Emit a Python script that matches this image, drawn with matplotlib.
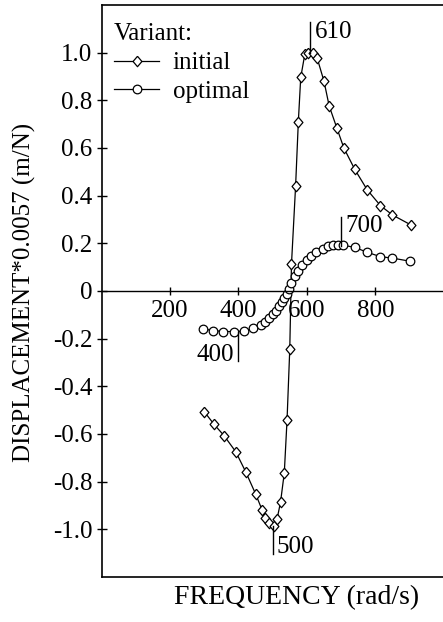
import matplotlib
matplotlib.use("Agg")
import matplotlib.pyplot as plt

plt.rcParams['font.family'] = ['Liberation Serif', 'DejaVu Serif']

# ---- data ----
init_freq = [300, 328, 358, 392, 421, 450, 469, 479, 489, 503, 513, 523, 534, 542, 550,
             555, 567, 575, 582, 594, 604, 617, 630, 650, 665, 687, 708, 740, 776, 815, 850, 903]
init_disp = [-0.506, -0.558, -0.607, -0.674, -0.758, -0.851, -0.918, -0.953, -0.974, -0.984,
             -0.956, -0.886, -0.763, -0.542, -0.243,
             0.113, 0.44, 0.71, 0.896, 0.994, 1.0, 1.0, 0.977, 0.88, 0.777, 0.686, 0.60,
             0.51, 0.425, 0.358, 0.319, 0.278]

opt_freq = [297, 327, 356, 387, 416, 443, 465, 477, 489, 500, 510, 518, 526, 533, 541, 547,
            555, 565, 575, 586, 599, 612, 626, 646, 662, 677, 691, 706, 740, 777, 815, 850, 901]
opt_disp = [-0.159, -0.166, -0.170, -0.170, -0.168, -0.157, -0.141, -0.128, -0.115, -0.098,
            -0.082, -0.064, -0.048, -0.031, -0.013, 0.008,
            0.032, 0.062, 0.085, 0.110, 0.131, 0.148, 0.162, 0.176, 0.190, 0.192, 0.192,
            0.192, 0.183, 0.162, 0.144, 0.138, 0.125]

series_labels = ['initial', 'optimal']
legend_title = 'Variant:'

xticks = [200, 400, 600, 800]
xtick_labels = ['200', '400', '600', '800']
yticks = [1.0, 0.8, 0.6, 0.4, 0.2, 0, -0.2, -0.4, -0.6, -0.8, -1.0]
ytick_labels = ['1.0', '0.8', '0.6', '0.4', '0.2', '0', '-0.2', '-0.4', '-0.6', '-0.8', '-1.0']

peak_freqs = [610, 700, 500, 400]
peak_labels = ['610', '700', '500', '400']

xlabel = 'FREQUENCY (rad/s)'
ylabel = 'DISPLACEMENT*0.0057 (m/N)'

# ---- figure ----
W, H = 443, 622
fig = plt.figure(figsize=(W / 100, H / 100), dpi=100)
left_px, right_px, top_px, bot_px = 101.5, 444.5, 5, 577
ax = fig.add_axes([left_px / W, 1 - bot_px / H, (right_px - left_px) / W, (bot_px - top_px) / H])
ax.set_xlim(0, 1002)
ax.set_ylim(-1.2, 1.2)

FS = 18

diamond = [(0, 1), (0.85, 0), (0, -1), (-0.85, 0), (0, 1)]
ax.plot(init_freq, init_disp, color='black', lw=0.9, marker=diamond, ms=7.5,
        mfc='white', mec='black', mew=0.9, label=series_labels[0])
ax.plot(opt_freq, opt_disp, color='black', lw=0.9, marker='o', ms=6.2,
        mfc='white', mec='black', mew=0.9, label=series_labels[1])

# spines: bottom spine at y=0, frame around
for s in ['left', 'top', 'right']:
    ax.spines[s].set_linewidth(1.2)
ax.spines['bottom'].set_position(('data', 0))
ax.spines['bottom'].set_linewidth(1.0)
ax.plot([0, 1], [0, 0], transform=ax.transAxes, color='black', lw=1.2, clip_on=False)

ax.set_xticks(xticks)
ax.set_xticklabels(xtick_labels)
ax.set_yticks(yticks)
ax.set_yticklabels(ytick_labels)
ax.tick_params(axis='x', direction='inout', length=6, width=1.0, pad=3.5, labelsize=FS)
ax.tick_params(axis='y', direction='inout', length=7, width=1.0, pad=3, labelsize=FS)

fig.text(297 / W, 1 - 598 / H, xlabel, ha='center', va='center', fontsize=20)
fig.text(24 / W, 1 - 292 / H, ylabel, ha='center', va='center', rotation=90, fontsize=18)

# peak markers: vertical ticks with labels
# (line y-range, text y, text side)
peak_specs = [
    (1.0, 1.13, 1.085, 'left'),
    (0.189, 0.31, 0.272, 'left'),
    (-0.985, -1.103, -1.073, 'left'),
    (-0.172, -0.293, -0.268, 'right'),
]
for f, lab, (y0, y1, yt, side) in zip(peak_freqs, peak_labels, peak_specs):
    ax.plot([f, f], [y0, y1], color='black', lw=1.0)
    dx = 3 if side == 'left' else -3
    ax.annotate(lab, xy=(f, yt), xytext=(dx, 0), textcoords='offset points',
                ha=side, va='center', fontsize=FS)

leg = ax.legend(loc='upper left', bbox_to_anchor=(5 / 343, 1 - 11 / 572),
                title=legend_title, frameon=False, fontsize=FS,
                title_fontsize=FS, handlelength=1.8, handletextpad=0.55,
                labelspacing=0.25, borderaxespad=0.0, borderpad=0.3)
leg._legend_box.align = 'left'

fig.savefig('out.png', dpi=100)
